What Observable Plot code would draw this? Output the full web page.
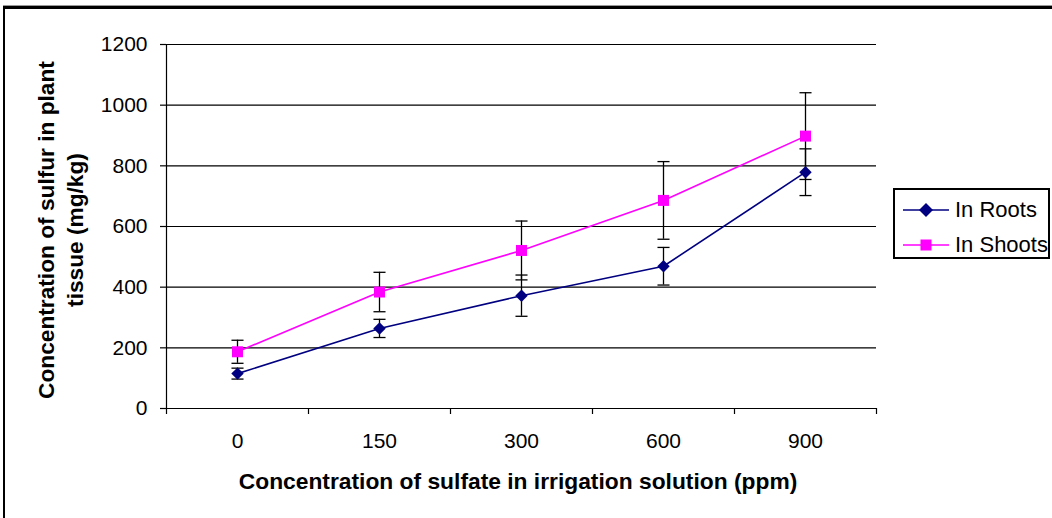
<!DOCTYPE html>
<html>
<head>
<meta charset="utf-8">
<script src="https://cdn.jsdelivr.net/npm/d3@7"></script>
<script src="https://cdn.jsdelivr.net/npm/@observablehq/plot@0.6"></script>
<style>
  html, body { margin: 0; padding: 0; background: #fff; }
  #wrap { position: relative; width: 1052px; height: 518px; overflow: hidden; font-family: "Liberation Sans", Arial, sans-serif; }
  #frame { position: absolute; left: 3px; top: 6px; width: 1100px; height: 600px; border-top: 3px solid #000; border-left: 2px solid #000; box-shadow: 0 -1px 0 #999; }
  #chart { position: absolute; left: 0; top: 0; }
  .xtitle { position: absolute; left: 518px; top: 481px; transform: translate(-50%, -50%); font-weight: bold; font-size: 22.8px; white-space: nowrap; color: #000; }
  .ytitle { position: absolute; left: 61px; top: 230px; transform: translate(-50%, -50%) rotate(-90deg); font-weight: bold; font-size: 22.7px; line-height: 29px; white-space: nowrap; text-align: center; color: #000; }
  #legend { position: absolute; left: 893px; top: 188px; width: 157px; height: 71px; border: 2px solid #000; box-sizing: border-box; background: #fff; }
  .lrow { position: absolute; left: 8px; height: 30px; display: flex; align-items: center; font-size: 22px; color: #000; white-space: nowrap; }
  .lrow svg { margin-right: 6px; }
</style>
</head>
<body>
<div id="wrap">
  <div id="frame"></div>
  <div id="chart"></div>
  <div class="ytitle">Concentration of sulfur in plant<br>tissue (mg/kg)</div>
  <div class="xtitle">Concentration of sulfate in irrigation solution (ppm)</div>
  <div id="legend"></div>
</div>
<script>
// ---- data ----
const categories = ["0", "150", "300", "600", "900"];
const seriesNames = ["In Roots", "In Shoots"];
const rootsMean = [115, 264, 372, 469, 779];
const rootsErr = [18, 30, 68, 62, 77];
const shootsMean = [187, 384, 521, 686, 898];
const shootsErr = [38, 65, 97, 128, 143];
const yTicks = [0, 200, 400, 600, 800, 1000, 1200];

const colors = {"In Roots": "#000080", "In Shoots": "#FF00FF"};

const roots = categories.map((c, i) => ({i, cat: c, series: "In Roots", mean: rootsMean[i], err: rootsErr[i]}));
const shoots = categories.map((c, i) => ({i, cat: c, series: "In Shoots", mean: shootsMean[i], err: shootsErr[i]}));
const all = roots.concat(shoots);

const idx = categories.map((c, i) => i);
const bounds = d3.range(categories.length + 1).map(i => i - 0.5);

const capSymbol = {
  draw(context, size) {
    const w = Math.sqrt(size) / 2;
    context.moveTo(-w, 0);
    context.lineTo(w, 0);
  }
};

const plot = Plot.plot({
  width: 1052,
  height: 518,
  marginLeft: 166,
  marginRight: 176,
  marginTop: 44,
  marginBottom: 110,
  style: {fontFamily: "'Liberation Sans', Arial, sans-serif", background: "transparent", overflow: "visible"},
  x: {domain: [-0.5, categories.length - 0.5], axis: null},
  y: {domain: [0, 1200], axis: null},
  marks: [
    Plot.ruleY(yTicks.filter(v => v > 0), {stroke: "#000", strokeWidth: 1.2}),
    Plot.ruleY([0], {stroke: "#000", strokeWidth: 1.2}),
    Plot.ruleX([-0.5], {stroke: "#000", strokeWidth: 1.2}),
    Plot.axisY(yTicks, {anchor: "left", tickSize: 6, tickPadding: 13, fontSize: 21, tickFormat: d => String(d), label: null, stroke: "#000", strokeWidth: 1.2, color: "#000"}),
    Plot.axisX(bounds, {anchor: "bottom", tickSize: 6, tickFormat: () => "", label: null, strokeWidth: 1.2}),
    Plot.axisX(idx, {anchor: "bottom", tickSize: 0, tickPadding: 25, tickFormat: i => categories[i], fontSize: 21, label: null}),
    Plot.line(roots, {x: "i", y: "mean", stroke: colors["In Roots"], strokeWidth: 1.6}),
    Plot.line(shoots, {x: "i", y: "mean", stroke: colors["In Shoots"], strokeWidth: 1.6}),
    Plot.ruleX(all, {x: "i", y1: d => d.mean - d.err, y2: d => d.mean + d.err, stroke: "#000", strokeWidth: 1.3}),
    Plot.dot(all, {x: "i", y: d => d.mean - d.err, symbol: capSymbol, r: 6.8, stroke: "#000", fill: "none", strokeWidth: 1.3}),
    Plot.dot(all, {x: "i", y: d => d.mean + d.err, symbol: capSymbol, r: 6.8, stroke: "#000", fill: "none", strokeWidth: 1.3}),
    Plot.dot(roots, {x: "i", y: "mean", symbol: "diamond2", r: 5.6, fill: colors["In Roots"], stroke: "none"}),
    Plot.dot(shoots, {x: "i", y: "mean", symbol: "square", r: 6.2, fill: colors["In Shoots"], stroke: "none"})
  ]
});
document.getElementById("chart").appendChild(plot);

// legend
const legend = document.getElementById("legend");
const symbolPaths = {
  "In Roots": '<path d="M23,-7 L30,0 L23,7 L16,0 Z" transform="translate(0,15)" fill="#000080"/>',
  "In Shoots": '<rect x="17.5" y="9.5" width="11" height="11" fill="#FF00FF"/>'
};
seriesNames.forEach((name, k) => {
  const row = document.createElement("div");
  row.className = "lrow";
  row.style.top = (k === 0 ? 5 : 40) + "px";
  row.innerHTML = `<svg width="46" height="30"><line x1="0" x2="46" y1="15" y2="15" stroke="${colors[name]}" stroke-width="1.6"/>${symbolPaths[name]}</svg><span>${name}</span>`;
  legend.appendChild(row);
});
</script>
</body>
</html>
